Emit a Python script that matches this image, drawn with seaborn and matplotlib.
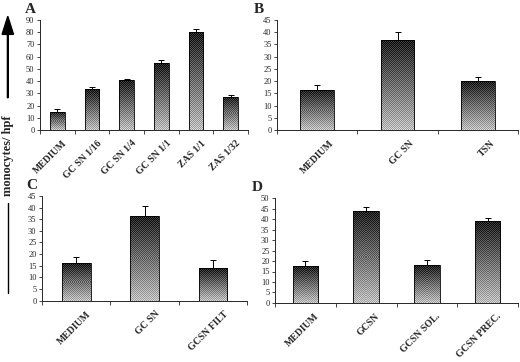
import numpy as np
import pandas as pd
import matplotlib
matplotlib.use("Agg")
import matplotlib.pyplot as plt
import seaborn as sns

# Panel data (mean, upper error)
a_labels = ["MEDIUM", "GC SN 1/16", "GC SN 1/4", "GC SN 1/1", "ZAS 1/1", "ZAS 1/32"]
a_values = [15, 33.5, 40.5, 54.5, 80, 27]
a_errors = [2.5, 1.5, 1.0, 2.5, 2.5, 1.5]

b_labels = ["MEDIUM", "GC SN", "TSN"]
b_values = [16.5, 36.8, 20]
b_errors = [1.8, 3.2, 1.5]

c_labels = ["MEDIUM", "GC SN", "GCSN FILT"]
c_values = [16, 36.5, 14]
c_errors = [2.7, 4.0, 3.5]

d_labels = ["MEDIUM", "GCSN", "GCSN SOL.", "GCSN PREC."]
d_values = [17.5, 44, 18, 39]
d_errors = [2.5, 1.5, 2.3, 1.3]

panels = [
    ("A", a_labels, a_values, a_errors, 90, 10, [0.077, 0.641, 0.400, 0.304]),
    ("B", b_labels, b_values, b_errors, 45, 5, [0.533, 0.641, 0.463, 0.304]),
    ("C", c_labels, c_values, c_errors, 45, 5, [0.081, 0.169, 0.394, 0.290]),
    ("D", d_labels, d_values, d_errors, 50, 5, [0.529, 0.163, 0.467, 0.290]),
]

sns.set_style("ticks")
plt.rcParams["font.family"] = ["Liberation Serif", "DejaVu Serif"]

fig = plt.figure(figsize=(5.2, 3.62), dpi=100)


def dither(h_px, w_px):
    # dark at top, light at bottom, with a checker dither like the print
    rows = max(int(round(h_px)), 2)
    cols = max(int(round(w_px)), 2)
    grad = np.linspace(0.12, 0.74, rows)[:, None] * np.ones((rows, cols))
    checker = (np.indices((rows, cols)).sum(axis=0) % 2) * 0.22 - 0.11
    return np.clip(grad + checker, 0, 1)


for letter, labels, values, errors, ymax, step, rect in panels:
    ax = fig.add_axes(rect)
    df = pd.DataFrame({"cat": labels, "val": values})
    sns.barplot(data=df, x="cat", y="val", ax=ax, color="0.5", width=0.42,
                edgecolor="black", linewidth=0.6)
    n = len(labels)
    ax.set_xlim(-0.5, n - 0.5)
    ax.set_ylim(0, ymax)
    for patch, err in zip(ax.patches, errors):
        x0, y0 = patch.get_x(), patch.get_y()
        w, h = patch.get_width(), patch.get_height()
        p0 = ax.transData.transform((x0, y0))
        p1 = ax.transData.transform((x0 + w, y0 + h))
        tex = dither(p1[1] - p0[1], p1[0] - p0[0])
        im = ax.imshow(tex, cmap="gray", vmin=0, vmax=1, aspect="auto",
                       extent=(x0, x0 + w, y0, y0 + h), origin="upper",
                       interpolation="nearest", zorder=patch.get_zorder())
        im.set_clip_path(patch)
        patch.set_facecolor("none")
        patch.set_zorder(patch.get_zorder() + 0.1)
        ax.errorbar(x0 + w / 2, h, yerr=[[0], [err]], fmt="none", ecolor="black",
                    elinewidth=0.7, capsize=2, capthick=0.7, zorder=5)
    ax.set_xlim(-0.5, n - 0.5)
    ax.set_ylim(0, ymax)
    ax.set_yticks(np.arange(0, ymax + 1, step))
    ax.set_xticks(np.arange(-0.5, n, 1.0))
    ax.set_xticklabels([])
    ax.tick_params(axis="x", length=3, width=0.6, direction="out")
    ax.tick_params(axis="y", length=2.5, width=0.6, labelsize=6, pad=1.5)
    for i, lab in enumerate(labels):
        ax.text(i + 0.15, -0.08, lab, transform=ax.get_xaxis_transform(),
                rotation=45, ha="right", va="top", fontsize=7, fontweight="bold",
                rotation_mode="anchor")
    ax.set_xlabel("")
    ax.set_ylabel("")
    sns.despine(ax=ax)
    for s in ["left", "bottom"]:
        ax.spines[s].set_linewidth(0.7)
    fig.text(rect[0] - 0.03 if letter in "AC" else rect[0] - 0.045,
             rect[1] + rect[3] + 0.01, letter, fontsize=11, fontweight="bold",
             ha="left", va="bottom")

# shared y label with arrow
fig.text(0.015, 0.57, "monocytes/ hpf", rotation=90, ha="center", va="center",
         fontsize=9, fontweight="bold")
fig.add_artist(plt.Line2D([0.015, 0.015], [0.19, 0.44], color="black", lw=1.0,
                          transform=fig.transFigure))
fig.add_artist(matplotlib.patches.FancyArrow(0.015, 0.73, 0, 0.225, width=0.0015,
                                             head_width=0.022, head_length=0.05,
                                             color="black", length_includes_head=True,
                                             transform=fig.transFigure))

fig.savefig("out.png", dpi=100)
